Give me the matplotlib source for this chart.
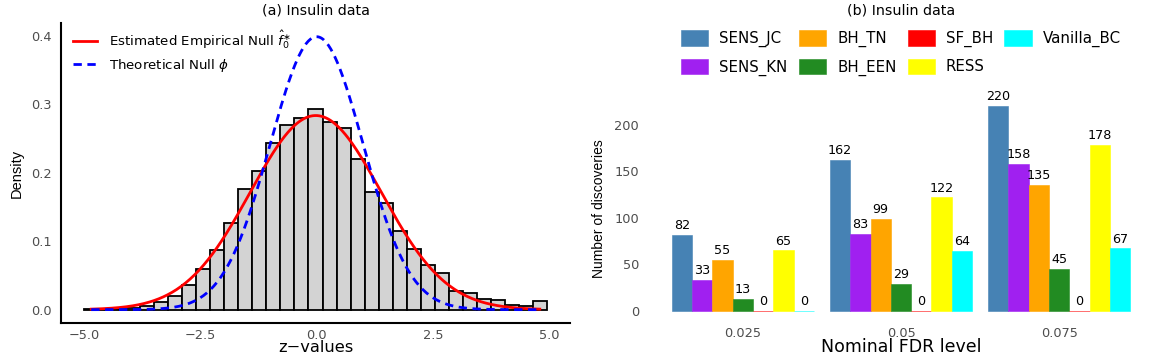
import matplotlib
matplotlib.use('Agg')
import matplotlib.pyplot as plt
import numpy as np

plt.rcParams['font.family'] = 'DejaVu Sans'
plt.rcParams['axes.unicode_minus'] = True

#### Data ####
# (a) histogram of z-values: density per bin (33 bins)
hist_density = [0.0003, 0.0005, 0.001, 0.003, 0.0055, 0.0115, 0.0195, 0.036,
                0.060, 0.087, 0.127, 0.176, 0.203, 0.244, 0.270, 0.280, 0.293,
                0.275, 0.265, 0.220, 0.172, 0.156, 0.115, 0.0886, 0.065, 0.053,
                0.0277, 0.0243, 0.0156, 0.0137, 0.0073, 0.0049, 0.0122]
z_min, z_max = -4.85, 4.80          # range of observed z-values
emp_mu, emp_sigma = -0.02, 1.406     # estimated empirical null
theo_mu, theo_sigma = 0.0, 1.0       # theoretical null

# (b) number of discoveries
fdr_levels = ['0.025', '0.05', '0.075']
methods = ['SENS_JC', 'SENS_KN', 'BH_TN', 'BH_EEN', 'SF_BH', 'RESS', 'Vanilla_BC']
method_colors = ['#4682B4', '#A020F0', '#FFA500', '#228B22', '#FF0000', '#FFFF00', '#00FFFF']
sens_jc = [82, 162, 220]
sens_kn = [33, 83, 158]
bh_tn = [55, 99, 135]
bh_een = [13, 29, 45]
sf_bh = [0, 0, 0]
ress = [65, 122, 178]
vanilla_bc = [0, 64, 67]
discoveries = [sens_jc, sens_kn, bh_tn, bh_een, sf_bh, ress, vanilla_bc]

tick_grey = '#4D4D4D'

def npdf(x, mu, s):
    return np.exp(-0.5 * ((x - mu) / s) ** 2) / (s * np.sqrt(2 * np.pi))

W, H = 1163, 361
fig = plt.figure(figsize=(W / 100, H / 100), dpi=100)

def box(x0, x1, ytop, ybot):
    return [x0 / W, 1 - ybot / H, (x1 - x0) / W, (ybot - ytop) / H]

#### Panel (a) ####
ax1 = fig.add_axes(box(61, 570, 23, 323))
nb = len(hist_density)
bw = (z_max - z_min) / (nb - 1)
edges = np.linspace(z_min - bw / 2, z_max + bw / 2, nb + 1)
centers = (edges[:-1] + edges[1:]) / 2
ax1.bar(centers, hist_density, width=bw, color='#D3D3D3', edgecolor='black', linewidth=1.3)

zz = np.linspace(z_min, z_max, 400)
ax1.plot(zz, npdf(zz, emp_mu, emp_sigma), color='red', lw=2.0,
         label=r'Estimated Empirical Null $\hat{f}_0^{\ast}$')
ax1.plot(zz, npdf(zz, theo_mu, theo_sigma), color='blue', lw=2.0, ls=(0, (3, 2)),
         label=r'Theoretical Null $\phi$')

ax1.set_xlim(-5.5, 5.45)
ax1.set_ylim(-0.0195, 0.419)
ax1.set_xticks([-5.0, -2.5, 0.0, 2.5, 5.0])
ax1.set_xticklabels(['\u22125.0', '\u22122.5', '0.0', '2.5', '5.0'])
ax1.set_yticks([0.0, 0.1, 0.2, 0.3, 0.4])
ax1.set_yticklabels(['0.0', '0.1', '0.2', '0.3', '0.4'])
ax1.tick_params(length=0, labelsize=9.3, colors=tick_grey)
ax1.tick_params(axis='y', pad=6.5)
ax1.tick_params(axis='x', pad=4)
for sp in ['top', 'right']:
    ax1.spines[sp].set_visible(False)
for sp in ['left', 'bottom']:
    ax1.spines[sp].set_linewidth(1.5)
ax1.set_xlabel('z\u2212values', fontsize=11.7, va='center')
ax1.xaxis.set_label_coords(0.5, -0.083)
ax1.set_ylabel('Density', fontsize=10.5, family='Liberation Sans', va='center')
ax1.yaxis.set_label_coords(-0.087, 0.5)
ax1.text(0.5, 1.04, '(a) Insulin data', transform=ax1.transAxes, ha='center',
         va='center', fontsize=10.3)
ax1.legend(loc='upper left', bbox_to_anchor=(73 / W, 1 - 28 / H),
           bbox_transform=fig.transFigure, frameon=False, fontsize=9.6,
           handlelength=1.8, handletextpad=0.9, labelspacing=0.45,
           borderpad=0, borderaxespad=0)

#### Panel (b) ####
ax2 = fig.add_axes(box(648, 1154, 96, 321))
n_m = len(methods)
gw = 0.9
bwid = gw / n_m
xg = np.arange(1, len(fdr_levels) + 1)
for i, (m, c, vals) in enumerate(zip(methods, method_colors, discoveries)):
    pos = xg - gw / 2 + bwid * (i + 0.5)
    bars = ax2.bar(pos, vals, width=bwid, color=c, edgecolor=c, linewidth=0.4, label=m)
    ax2.bar_label(bars, labels=[str(v) for v in vals], padding=2, fontsize=9.2,
                  color='black')
ax2.set_xlim(0.4, 3.6)
ax2.set_ylim(-11, 231)
ax2.set_xticks(xg)
ax2.set_xticklabels(fdr_levels)
ax2.set_yticks([0, 50, 100, 150, 200])
ax2.tick_params(length=0, labelsize=9.3, colors=tick_grey)
ax2.tick_params(axis='y', pad=6.5)
ax2.tick_params(axis='x', pad=4.5)
for sp in ax2.spines.values():
    sp.set_visible(False)
ax2.set_xlabel('Nominal FDR level', fontsize=12.5, va='center')
ax2.xaxis.set_label_coords(0.5, -0.1156)
ax2.set_ylabel('Number of discoveries', fontsize=10, family='Liberation Sans', va='center')
ax2.yaxis.set_label_coords(-0.0968, 0.5)
ax2.text(0.5, 1.378, '(b) Insulin data', transform=ax2.transAxes, ha='center',
         va='center', fontsize=10.3)
ax2.legend(loc='center', bbox_to_anchor=(901 / W, 1 - 53 / H),
           bbox_transform=fig.transFigure, ncol=4, frameon=False, fontsize=10.8,
           handlelength=1.8, handleheight=1.2, handletextpad=0.75,
           columnspacing=0.75, labelspacing=0.75, borderpad=0)

fig.savefig('out.png', dpi=100)
